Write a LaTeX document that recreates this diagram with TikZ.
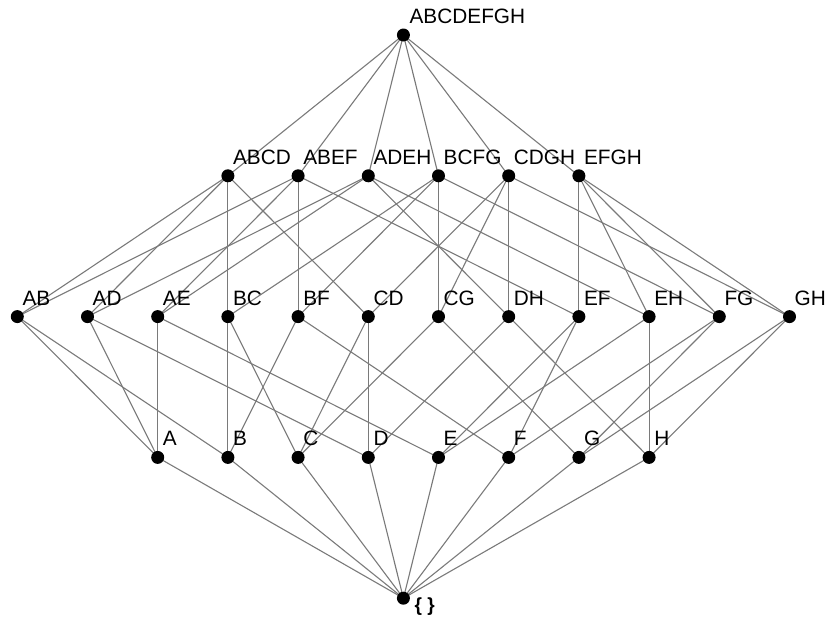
\documentclass[tikz,border=0pt]{standalone}
\usepackage{fontspec}
\setmainfont{Liberation Sans}
\usetikzlibrary{backgrounds}
\begin{document}
\begin{tikzpicture}[x=1pt,y=-1pt,
  dot/.style={circle,fill=black,inner sep=0pt,minimum size=13pt},
  lbl/.style={anchor=base west,inner sep=0pt,font=\fontsize{20.8}{24}\selectfont},
  link/.style={draw=black!52,line width=1.1pt}]
\useasboundingbox (0,0) rectangle (829,619);
\def\X#1{17.3+70.2*#1}
% top
\node[dot] (T) at ({\X{5.5}},35) {};
\node[lbl] at ({\X{5.5}+6},23) {ABCDEFGH};
% faces
\foreach \n [count=\i from 3] in {ABCD,ABEF,ADEH,BCFG,CDGH,EFGH}{
  \node[dot] (\n) at ({\X{\i}},175.8) {};
  \node[lbl] at ({\X{\i}+5},164) {\n};
}
% edges
\foreach \n [count=\i from 0] in {AB,AD,AE,BC,BF,CD,CG,DH,EF,EH,FG,GH}{
  \node[dot] (\n) at ({\X{\i}},316.6) {};
  \node[lbl] at ({\X{\i}+5},305) {\n};
}
% vertices
\foreach \n [count=\i from 2] in {A,B,C,D,E,F,G,H}{
  \node[dot] (\n) at ({\X{\i}},457.4) {};
  \node[lbl] at ({\X{\i}+5},445.5) {\n};
}
% bottom
\node[dot] (Z) at ({\X{5.5}},598.2) {};
\node[lbl,anchor=north west,font=\fontsize{19}{22}\selectfont\bfseries] at ({\X{5.5}+11},598) {\{ \}};
\begin{scope}[on background layer]
  \foreach \f in {ABCD,ABEF,ADEH,BCFG,CDGH,EFGH}
    \draw[link] (T.center) -- (\f.center);
  \foreach \f/\e in {ABCD/AB,ABCD/BC,ABCD/CD,ABCD/AD,
                     ABEF/AB,ABEF/AE,ABEF/BF,ABEF/EF,
                     ADEH/AD,ADEH/AE,ADEH/DH,ADEH/EH,
                     BCFG/BC,BCFG/BF,BCFG/CG,BCFG/FG,
                     CDGH/CD,CDGH/CG,CDGH/DH,CDGH/GH,
                     EFGH/EF,EFGH/EH,EFGH/FG,EFGH/GH}
    \draw[link] (\f.center) -- (\e.center);
  \foreach \e/\v in {AB/A,AB/B,AD/A,AD/D,AE/A,AE/E,BC/B,BC/C,
                     BF/B,BF/F,CD/C,CD/D,CG/C,CG/G,DH/D,DH/H,
                     EF/E,EF/F,EH/E,EH/H,FG/F,FG/G,GH/G,GH/H}
    \draw[link] (\e.center) -- (\v.center);
  \foreach \v in {A,B,C,D,E,F,G,H}
    \draw[link] (\v.center) -- (Z.center);
\end{scope}
\end{tikzpicture}
\end{document}
